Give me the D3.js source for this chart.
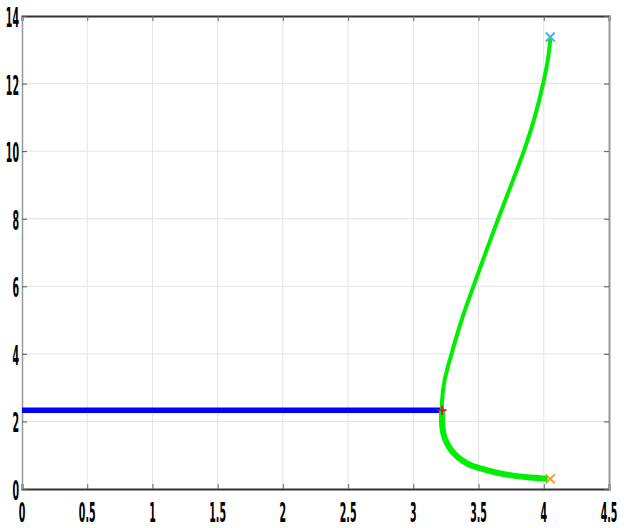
<!DOCTYPE html>
<html>
<head>
<meta charset="utf-8">
<script src="https://cdn.jsdelivr.net/npm/d3@7"></script>
<style>
  body { margin: 0; background: #fff; }
</style>
</head>
<body>
<div id="chart"></div>
<script>
// tick values
var xTicks = [0, 0.5, 1, 1.5, 2, 2.5, 3, 3.5, 4, 4.5];
var yTicks = [0, 2, 4, 6, 8, 10, 12, 14];

// horizontal blue segment
var blueLine = [[0, 2.33], [3.22, 2.33]];

// green curve, upper branch (junction -> top)
var greenUpper = [
    [3.22, 2.33], [3.22, 2.6], [3.24, 3.22], [3.29, 3.96], [3.37, 5.0],
    [3.46, 5.99], [3.555, 7.0], [3.65, 7.99], [3.75, 9.0], [3.85, 10.03],
    [3.93, 11.0], [3.995, 12.0], [4.035, 12.8], [4.05, 13.35]
];

// green curve, lower branch (junction -> bottom)
var greenLower = [
    [3.22, 2.33], [3.23, 1.65], [3.29, 1.15], [3.41, 0.76], [3.56, 0.56],
    [3.74, 0.41], [3.9, 0.34], [4.03, 0.30]
];

// markers: [x, y, type, colour]
var markers = [
    [3.22, 2.33, "plus", "#c8202a"],
    [4.05, 13.38, "x", "#4db3e6"],
    [4.05, 0.30, "x", "#f0a020"]
];

function init() {
    var w = 624;
    var h = 528;
    var left = 22, right = 609, top = 16, bottom = 489;

    var XScale = d3.scaleLinear().domain([0, 4.5]).range([left, right]);
    var YScale = d3.scaleLinear().domain([0, 14]).range([bottom, top]);

    var svg = d3.select("#chart")
        .append("svg")
        .attr("width", w)
        .attr("height", h);

    // grid lines
    svg.append("g").selectAll("line")
        .data(xTicks.slice(1, -1))
        .enter().append("line")
        .attr("x1", function (d) { return XScale(d); })
        .attr("x2", function (d) { return XScale(d); })
        .attr("y1", top).attr("y2", bottom)
        .attr("stroke", "#e3e3e3").attr("stroke-width", 1);

    svg.append("g").selectAll("line")
        .data(yTicks.slice(1, -1))
        .enter().append("line")
        .attr("y1", function (d) { return YScale(d); })
        .attr("y2", function (d) { return YScale(d); })
        .attr("x1", left).attr("x2", right)
        .attr("stroke", "#e3e3e3").attr("stroke-width", 1);

    // axes with inward ticks, no labels (labels drawn below)
    svg.append("g")
        .attr("transform", "translate(0," + bottom + ")")
        .call(d3.axisBottom(XScale).tickValues(xTicks).tickSize(-5).tickFormat(""))
        .call(function (g) {
            g.select(".domain").attr("stroke", "#333").attr("stroke-width", 2);
            g.selectAll(".tick line").attr("stroke", "#666");
        });
    svg.append("g")
        .attr("transform", "translate(0," + top + ")")
        .call(d3.axisTop(XScale).tickValues(xTicks).tickSize(-5).tickFormat(""))
        .call(function (g) {
            g.select(".domain").attr("stroke", "#333").attr("stroke-width", 2);
            g.selectAll(".tick line").attr("stroke", "#666");
        });
    svg.append("g")
        .attr("transform", "translate(" + left + ",0)")
        .call(d3.axisLeft(YScale).tickValues(yTicks).tickSize(-5).tickFormat(""))
        .call(function (g) {
            g.select(".domain").attr("stroke", "#999").attr("stroke-width", 1.5);
            g.selectAll(".tick line").attr("stroke", "#555");
        });
    svg.append("g")
        .attr("transform", "translate(" + right + ",0)")
        .call(d3.axisRight(YScale).tickValues(yTicks).tickSize(-5).tickFormat(""))
        .call(function (g) {
            g.select(".domain").attr("stroke", "#999").attr("stroke-width", 2);
            g.selectAll(".tick line").attr("stroke", "#555");
        });

    // squeezed bold tick labels
    var sx = 0.7, sy = 1.8;
    svg.append("g").selectAll("g")
        .data(xTicks)
        .enter().append("g")
        .attr("transform", function (d) { return "translate(" + XScale(d) + "," + 521.5 + ")"; })
        .append("text")
        .attr("transform", "scale(" + sx + "," + sy + ")")
        .attr("text-anchor", "middle")
        .attr("font-family", "DejaVu Sans Condensed, DejaVu Sans")
        .attr("font-weight", "bold")
        .attr("font-size", "15px")
        .attr("fill", "#000")
        .text(function (d) { return d; });

    svg.append("g").selectAll("g")
        .data(yTicks)
        .enter().append("g")
        .attr("transform", function (d) { return "translate(" + 19 + "," + (YScale(d) + 11) + ")"; })
        .append("text")
        .attr("transform", "scale(" + sx + "," + sy + ")")
        .attr("text-anchor", "end")
        .attr("font-family", "DejaVu Sans Condensed, DejaVu Sans")
        .attr("font-weight", "bold")
        .attr("font-size", "15px")
        .attr("fill", "#000")
        .text(function (d) { return d; });

    var line = d3.line()
        .x(function (d) { return XScale(d[0]); })
        .y(function (d) { return YScale(d[1]); });
    var curve = d3.line()
        .curve(d3.curveCatmullRom)
        .x(function (d) { return XScale(d[0]); })
        .y(function (d) { return YScale(d[1]); });

    svg.append("path").datum(blueLine)
        .attr("d", line).attr("fill", "none")
        .attr("stroke", "#0000ff").attr("stroke-width", 5.5);

    svg.append("path").datum(greenLower)
        .attr("d", curve).attr("fill", "none")
        .attr("stroke", "#00ee00").attr("stroke-width", 6);

    svg.append("path").datum(greenUpper)
        .attr("d", curve).attr("fill", "none")
        .attr("stroke", "#00ee00").attr("stroke-width", 4);

    // markers
    svg.append("g").selectAll("path")
        .data(markers)
        .enter().append("path")
        .attr("transform", function (d) { return "translate(" + XScale(d[0]) + "," + YScale(d[1]) + ")"; })
        .attr("d", function (d) {
            var s = 4.5;
            if (d[2] === "plus") return "M" + (-s) + ",0L" + s + ",0M0," + (-s) + "L0," + s;
            return "M" + (-s) + "," + (-s) + "L" + s + "," + s + "M" + (-s) + "," + s + "L" + s + "," + (-s);
        })
        .attr("fill", "none")
        .attr("stroke", function (d) { return d[3]; })
        .attr("stroke-width", 2);
}

window.onload = init;
</script>
</body>
</html>
